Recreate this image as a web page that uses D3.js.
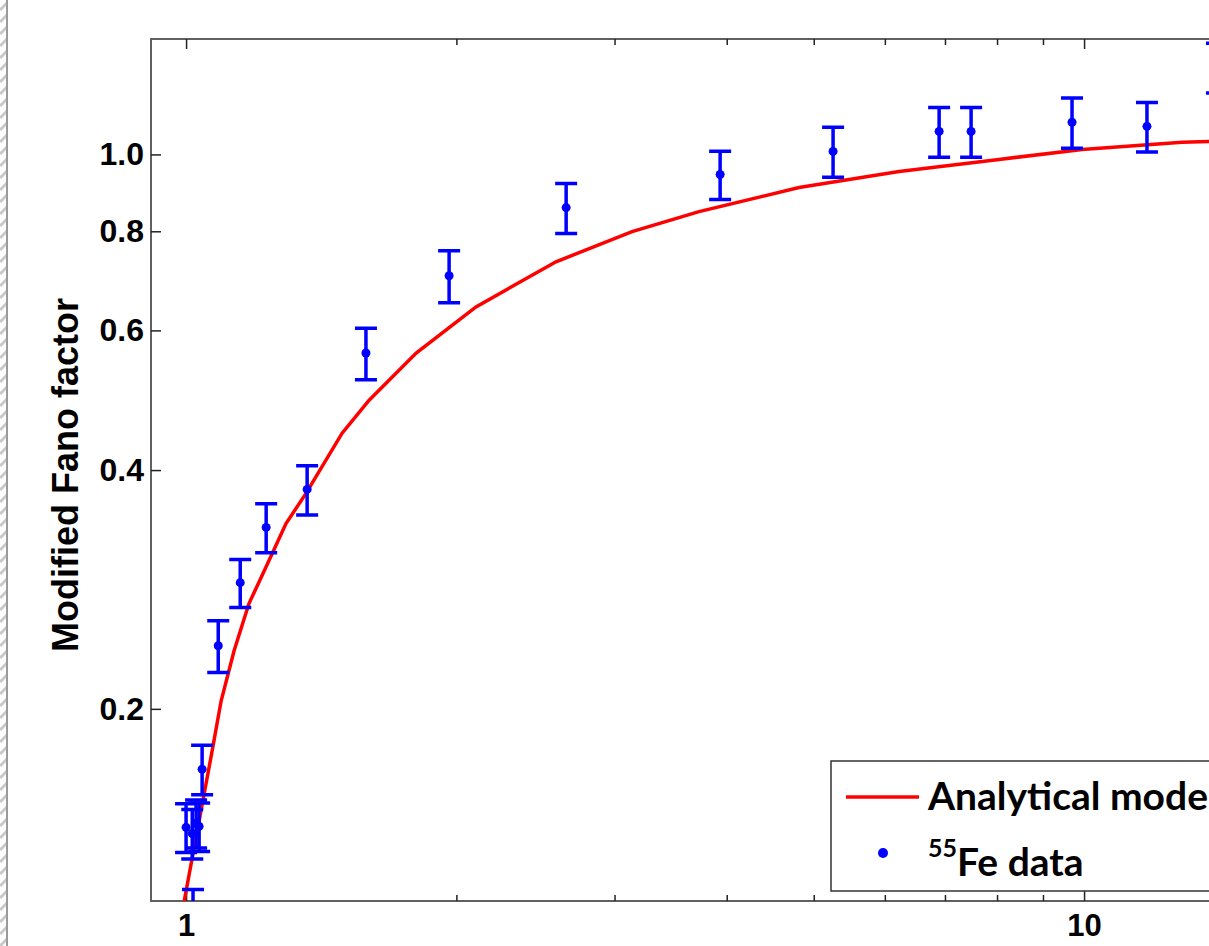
<!DOCTYPE html>
<html>
<head>
<meta charset="utf-8">
<script src="https://cdn.jsdelivr.net/npm/d3@7"></script>
<style>
  body { margin: 0; background: #fff; }
  svg { display: block; }
</style>
</head>
<body>
<div id="container"></div>
<script>
// 55Fe measurements: gain (x), modified Fano factor (y), error (y)
var dataX = [1.000, 1.016, 1.026, 1.034, 1.018, 1.042, 1.086, 1.149, 1.228, 1.364,
             1.586, 1.963, 2.650, 3.933, 5.254, 6.896, 7.485, 9.696, 11.75, 14.06];
var dataY = [0.1418, 0.1393, 0.1435, 0.1422, 0.1104, 0.1679, 0.2402, 0.2885, 0.3387, 0.3782,
             0.5619, 0.7032, 0.857, 0.9434, 1.0088, 1.069, 1.069, 1.098, 1.085, 1.288];
var dataErr = [0.010, 0.010, 0.010, 0.010, 0.008, 0.012, 0.018, 0.020, 0.024, 0.027,
               0.042, 0.053, 0.062, 0.066, 0.073, 0.077, 0.077, 0.080, 0.078, 0.093];

// analytical model curve
var modelX = [0.995, 1.069, 1.094, 1.131, 1.175, 1.237, 1.292, 1.360, 1.492, 1.599,
              1.804, 2.103, 2.582, 3.138, 3.726, 4.815, 6.223, 8.04, 9.95, 12.86, 16.0];
var modelY = [0.1143, 0.1769, 0.2046, 0.2367, 0.2715, 0.3076, 0.3425, 0.3738, 0.4452, 0.4900,
              0.5619, 0.6424, 0.7322, 0.7992, 0.847, 0.9084, 0.9517, 0.9856, 1.0146, 1.0356, 1.045];

var xMajor = [1, 10];
var xMinor = [2, 3, 4, 5, 6, 7, 8, 9, 20];
var yTicks = [0.2, 0.4, 0.6, 0.8, 1.0];
var yLabels = ['0.2', '0.4', '0.6', '0.8', '1.0'];

var width = 1209, height = 946;
var plotL = 151, plotT = 39, plotB = 901, plotR = 1400;

var svg = d3.select('#container').append('svg')
  .attr('width', width).attr('height', height);

// hatched selection border on the left
var defs = svg.append('defs');
var pat = defs.append('pattern')
  .attr('id', 'hatch').attr('patternUnits', 'userSpaceOnUse')
  .attr('width', 8).attr('height', 12);
pat.append('path').attr('d', 'M0,10 L8,2').attr('stroke', '#c8c8c8').attr('stroke-width', 3);
svg.append('rect').attr('x', 0).attr('y', 0).attr('width', 7).attr('height', height)
  .attr('fill', 'url(#hatch)');
svg.append('rect').attr('x', 6).attr('y', 0).attr('width', 2).attr('height', height)
  .attr('fill', '#9a9a9a');

defs.append('clipPath').attr('id', 'plot')
  .append('rect').attr('x', plotL).attr('y', plotT)
  .attr('width', plotR - plotL).attr('height', plotB - plotT);

var x = d3.scaleLog().domain([0.914, 35]).range([plotL, plotL + 898 * Math.log10(35 / 0.914)]);
var y = d3.scaleLog().domain([0.1145, 1.398]).range([plotB, plotT]);

// frame
svg.append('path')
  .attr('d', 'M' + plotR + ',' + plotT + 'H' + plotL + 'V' + plotB + 'H' + plotR)
  .attr('fill', 'none').attr('stroke', '#606060').attr('stroke-width', 2);

// axes
function styleAxis(g) {
  g.select('.domain').remove();
  g.selectAll('.tick line').attr('stroke', '#222').attr('stroke-width', 1.5);
  g.selectAll('.tick text').attr('fill', '#000')
    .attr('font-family', 'Liberation Sans, Arial, sans-serif')
    .attr('font-weight', 'bold');
}

svg.append('g').attr('transform', 'translate(0,' + plotB + ')')
  .call(d3.axisBottom(x).tickValues(xMajor).tickSize(-10).tickPadding(13)
    .tickFormat(d3.format('d')))
  .call(styleAxis)
  .selectAll('.tick text').attr('font-size', 31);
svg.append('g').attr('transform', 'translate(0,' + plotB + ')')
  .call(d3.axisBottom(x).tickValues(xMinor).tickSize(-6).tickFormat(''))
  .call(styleAxis);
svg.append('g').attr('transform', 'translate(0,' + plotT + ')')
  .call(d3.axisTop(x).tickValues(xMajor).tickSize(-10).tickFormat(''))
  .call(styleAxis);
svg.append('g').attr('transform', 'translate(0,' + plotT + ')')
  .call(d3.axisTop(x).tickValues(xMinor).tickSize(-6).tickFormat(''))
  .call(styleAxis);
svg.append('g').attr('transform', 'translate(' + plotL + ',0)')
  .call(d3.axisLeft(y).tickValues(yTicks).tickSize(-10).tickPadding(7)
    .tickFormat(function(d, i) { return yLabels[i]; }))
  .call(styleAxis)
  .selectAll('.tick text').attr('font-size', 32);

svg.append('text')
  .attr('transform', 'translate(78,475) rotate(-90)')
  .attr('text-anchor', 'middle')
  .attr('font-family', 'Liberation Sans, Arial, sans-serif')
  .attr('font-weight', 'bold').attr('font-size', 36)
  .text('Modified Fano factor');

var plot = svg.append('g').attr('clip-path', 'url(#plot)');

var line = d3.line()
  .x(function(d, i) { return x(modelX[i]); })
  .y(function(d, i) { return y(modelY[i]); });
plot.append('path').datum(modelX)
  .attr('d', line)
  .attr('fill', 'none').attr('stroke', '#ff0000').attr('stroke-width', 3.5);

var pts = plot.selectAll('g.pt').data(dataX).enter().append('g').classed('pt', true);
var cap = 11;
pts.append('path')
  .attr('d', function(d, i) {
    var cx = x(d), y0 = y(dataY[i] + dataErr[i]), y1 = y(dataY[i] - dataErr[i]);
    return 'M' + (cx - cap) + ',' + y0 + 'H' + (cx + cap) +
      'M' + cx + ',' + y0 + 'V' + y1 +
      'M' + (cx - cap) + ',' + y1 + 'H' + (cx + cap);
  })
  .attr('fill', 'none').attr('stroke', '#0000ff').attr('stroke-width', 3.5);
pts.append('circle')
  .attr('cx', function(d) { return x(d); })
  .attr('cy', function(d, i) { return y(dataY[i]); })
  .attr('r', 4.5).attr('fill', '#0000ff');

// legend
var lg = svg.append('g');
lg.append('rect').attr('x', 831).attr('y', 761).attr('width', 500).attr('height', 130)
  .attr('fill', '#fff').attr('stroke', '#333').attr('stroke-width', 1.5);
lg.append('line').attr('x1', 846).attr('x2', 919).attr('y1', 797).attr('y2', 797)
  .attr('stroke', '#ff0000').attr('stroke-width', 3.5);
lg.append('circle').attr('cx', 883).attr('cy', 853).attr('r', 5).attr('fill', '#0000ff');
var lf = 'Lato, Open Sans, sans-serif';
lg.append('text').attr('x', 928).attr('y', 810)
  .attr('font-family', lf).attr('font-weight', 'bold').attr('font-size', 39)
  .text('Analytical model');
var t2 = lg.append('text').attr('x', 928).attr('y', 876)
  .attr('font-family', lf).attr('font-weight', 'bold').attr('font-size', 39);
t2.append('tspan').attr('font-size', 25).attr('dy', -19).text('55');
t2.append('tspan').attr('dy', 19).text('Fe data');
</script>
</body>
</html>
